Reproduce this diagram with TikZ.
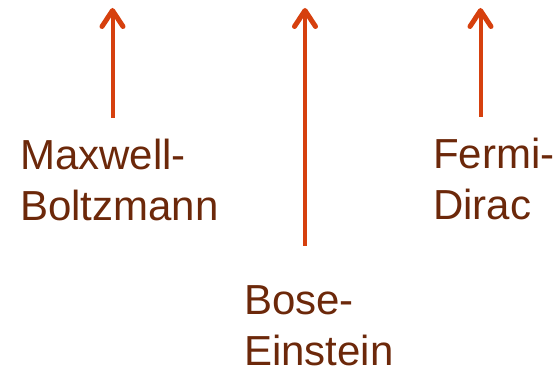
\documentclass[tikz,border=0pt]{standalone}
\usepackage{fontspec}
\setmainfont{Liberation Sans}
\usetikzlibrary{arrows.meta}
\definecolor{arrowred}{RGB}{214,64,14}
\definecolor{labelbrown}{RGB}{108,40,10}
\begin{document}
\begin{tikzpicture}[x=1pt,y=1pt,
  arr/.style={draw=arrowred, line width=4pt, -{Straight Barb[length=16pt,width=21pt,round,line width=5pt]}},
  lbl/.style={text=labelbrown, font=\fontsize{42}{51}\selectfont, align=left, inner sep=0pt, anchor=base west}]
\useasboundingbox (0,0) rectangle (560,374);
\coordinate (mbS) at (112.5,374-118);
\coordinate (mbT) at (112.5,374-8);
\coordinate (beS) at (305,374-246);
\coordinate (beT) at (305,374-8);
\coordinate (fdS) at (480.5,374-117);
\coordinate (fdT) at (480.5,374-8);
\draw[arr] (mbS) -- (mbT);
\draw[arr] (beS) -- (beT);
\draw[arr] (fdS) -- (fdT);
\node[lbl] (mb) at (20,374-221) {Maxwell-\\Boltzmann};
\node[lbl] (be) at (244,374-366) {Bose-\\Einstein};
\node[lbl] (fd) at (433,374-220) {Fermi-\\Dirac};
\end{tikzpicture}
\end{document}
